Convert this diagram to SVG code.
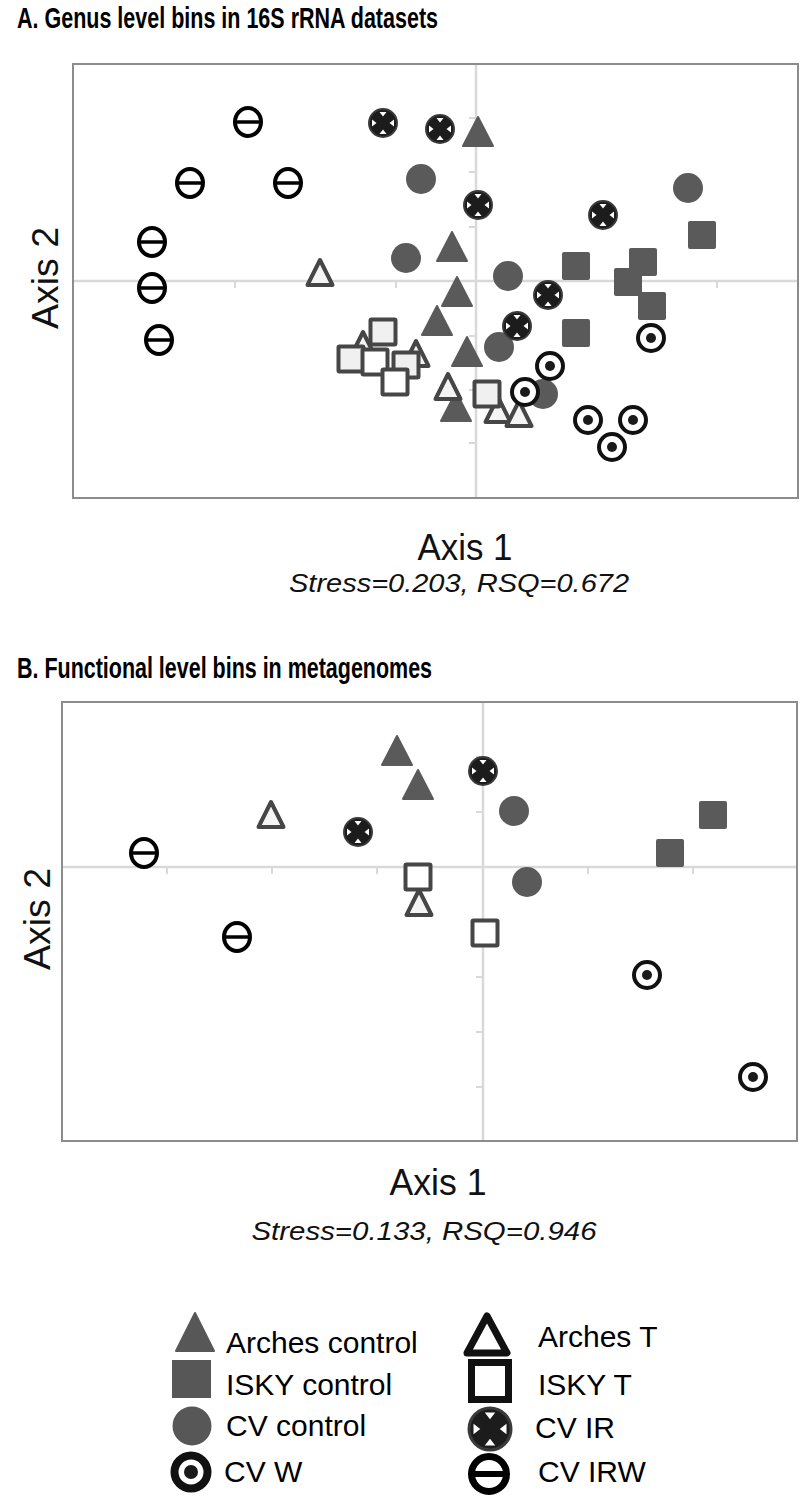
<svg xmlns="http://www.w3.org/2000/svg" xmlns:xlink="http://www.w3.org/1999/xlink" width="800" height="1498" viewBox="0 0 800 1498">
<style>
.frame{fill:none;stroke:#8c8c8c;stroke-width:2}
.grid{stroke:#d9d9d9;stroke-width:2.5}
.tick{stroke:#d9d9d9;stroke-width:2}
.title{font-family:"Liberation Sans",Arial,sans-serif;font-weight:bold;font-size:30px;fill:#000}
.axis{font-family:"Liberation Sans",Arial,sans-serif;font-size:36px;fill:#111}
.stat{font-family:"Liberation Sans",Arial,sans-serif;font-style:italic;font-size:26px;fill:#111}
.leg{font-family:"Liberation Sans",Arial,sans-serif;font-size:30px;fill:#000}
</style>
<defs>
<g id="ft"><polygon points="0,-15 15,14 -15,14" fill="#5a5a5a" stroke="#5a5a5a" stroke-width="2" stroke-linejoin="round"/></g>
<g id="fs"><rect x="-14" y="-14" width="28" height="28" rx="2" fill="#5a5a5a"/></g>
<g id="fc"><circle r="15" fill="#5a5a5a"/></g>
<g id="ot"><polygon points="0,-13 12.5,12 -12.5,12" fill="#f4f4f4" stroke="#464646" stroke-width="4" stroke-linejoin="round"/></g>
<g id="os"><rect x="-12.5" y="-12.5" width="25" height="25" rx="1" fill="#f0f0f0" stroke="#464646" stroke-width="4"/></g>
<g id="osw"><rect x="-12.5" y="-12.5" width="25" height="25" rx="1" fill="#ffffff" stroke="#464646" stroke-width="4"/></g>
<g id="ir"><circle r="14" fill="#1c1c1c" stroke="#3a3a3a" stroke-width="2"/><polygon points="-3.5,-11 3.5,-11 0,-6.5" fill="#fff"/><polygon points="-3.5,11 3.5,11 0,6.5" fill="#fff"/><polygon points="-11,-3.5 -11,3.5 -6.5,0" fill="#fff"/><polygon points="11,-3.5 11,3.5 6.5,0" fill="#fff"/></g>
<g id="w"><circle r="13" fill="#fff" stroke="#111" stroke-width="4"/><circle r="5" fill="#1a1a1a"/></g>
<g id="irw"><ellipse rx="13" ry="14" fill="#fff" stroke="#000" stroke-width="4"/><line x1="-13" y1="0" x2="13" y2="0" stroke="#000" stroke-width="3.5"/></g>
<g id="otL"><polygon points="0,-19 20,18 -20,18" fill="#fff" stroke="#111" stroke-width="7" stroke-linejoin="round"/></g>
<g id="osL"><rect x="-18.5" y="-18.5" width="37" height="37" fill="#fff" stroke="#111" stroke-width="7"/></g>
<g id="wL"><circle r="16.5" fill="#fff" stroke="#111" stroke-width="8"/><circle r="7" fill="#1a1a1a"/></g>
<g id="irwL"><circle r="17.5" fill="#fff" stroke="#000" stroke-width="7"/><line x1="-17.5" y1="0" x2="17.5" y2="0" stroke="#000" stroke-width="6"/></g>
</defs>
<rect width="800" height="1498" fill="#fff"/>

<!-- Panel A -->
<g id="panelA">
<text class="title" x="17" y="28" textLength="421" lengthAdjust="spacingAndGlyphs">A. Genus level bins in 16S rRNA datasets</text>
<g id="axesA">
<line class="grid" x1="476" y1="63" x2="476" y2="498"/>
<line class="grid" x1="73" y1="281" x2="798" y2="281"/>
<g class="tick">
<line x1="235" y1="281" x2="235" y2="288"/><line x1="396" y1="281" x2="396" y2="288"/><line x1="556" y1="281" x2="556" y2="288"/><line x1="717" y1="281" x2="717" y2="288"/>
<line x1="469" y1="118" x2="476" y2="118"/><line x1="469" y1="172" x2="476" y2="172"/><line x1="469" y1="227" x2="476" y2="227"/><line x1="469" y1="336" x2="476" y2="336"/><line x1="469" y1="390" x2="476" y2="390"/><line x1="469" y1="443" x2="476" y2="443"/>
</g>
<rect class="frame" x="73" y="64" width="725" height="434"/>
</g>
<g id="A-cvcontrol"><use xlink:href="#fc" x="421" y="179"/><use xlink:href="#fc" x="406" y="258"/><use xlink:href="#fc" x="508" y="276"/><use xlink:href="#fc" x="499" y="347"/><use xlink:href="#fc" x="543" y="394"/><use xlink:href="#fc" x="688" y="188"/></g>
<g id="A-iskycontrol"><use xlink:href="#fs" x="576" y="266"/><use xlink:href="#fs" x="643" y="262"/><use xlink:href="#fs" x="628" y="282"/><use xlink:href="#fs" x="652" y="306"/><use xlink:href="#fs" x="576" y="333"/><use xlink:href="#fs" x="702" y="235"/></g>
<g id="A-archescontrol"><use xlink:href="#ft" x="478" y="132"/><use xlink:href="#ft" x="452" y="247"/><use xlink:href="#ft" x="457" y="292"/><use xlink:href="#ft" x="437" y="321"/><use xlink:href="#ft" x="467" y="352"/><use xlink:href="#ft" x="456" y="407"/></g>
<g id="A-archesT"><use xlink:href="#ot" x="320" y="273"/><use xlink:href="#ot" x="363" y="345"/><use xlink:href="#ot" x="416" y="354"/><use xlink:href="#ot" x="448" y="387"/><use xlink:href="#ot" x="498" y="410"/><use xlink:href="#ot" x="519" y="414"/></g>
<g id="A-iskyT"><use xlink:href="#os" x="383" y="332"/><use xlink:href="#os" x="351" y="359"/><use xlink:href="#osw" x="375" y="362"/><use xlink:href="#os" x="406" y="365"/><use xlink:href="#osw" x="395" y="382"/><use xlink:href="#os" x="487" y="394"/></g>
<g id="A-cvIR"><use xlink:href="#ir" x="383" y="123"/><use xlink:href="#ir" x="440" y="129"/><use xlink:href="#ir" x="478" y="205"/><use xlink:href="#ir" x="603" y="215"/><use xlink:href="#ir" x="548" y="295"/><use xlink:href="#ir" x="517" y="326"/></g>
<g id="A-cvW"><use xlink:href="#w" x="651" y="338"/><use xlink:href="#w" x="550" y="366"/><use xlink:href="#w" x="525" y="392"/><use xlink:href="#w" x="588" y="420"/><use xlink:href="#w" x="633" y="420"/><use xlink:href="#w" x="612" y="447"/></g>
<g id="A-cvIRW"><use xlink:href="#irw" x="248" y="122"/><use xlink:href="#irw" x="190" y="183"/><use xlink:href="#irw" x="288" y="183"/><use xlink:href="#irw" x="152" y="242"/><use xlink:href="#irw" x="152" y="288"/><use xlink:href="#irw" x="159" y="340"/></g>
<text class="axis" x="465" y="560" text-anchor="middle" textLength="95" lengthAdjust="spacingAndGlyphs">Axis 1</text>
<text class="axis" transform="translate(58,278) rotate(-90)" text-anchor="middle" textLength="102" lengthAdjust="spacingAndGlyphs">Axis 2</text>
<text class="stat" x="459" y="592" text-anchor="middle" textLength="340" lengthAdjust="spacingAndGlyphs">Stress=0.203, RSQ=0.672</text>
</g>

<!-- Panel B -->
<g id="panelB">
<text class="title" x="17" y="678" textLength="415" lengthAdjust="spacingAndGlyphs">B. Functional level bins in metagenomes</text>
<g id="axesB">
<line class="grid" x1="483" y1="702" x2="483" y2="1141"/>
<line class="grid" x1="62" y1="867" x2="797" y2="867"/>
<g class="tick">
<line x1="167" y1="867" x2="167" y2="874"/><line x1="272" y1="867" x2="272" y2="874"/><line x1="377" y1="867" x2="377" y2="874"/><line x1="588" y1="867" x2="588" y2="874"/><line x1="693" y1="867" x2="693" y2="874"/>
<line x1="476" y1="757" x2="483" y2="757"/><line x1="476" y1="812" x2="483" y2="812"/><line x1="476" y1="922" x2="483" y2="922"/><line x1="476" y1="977" x2="483" y2="977"/><line x1="476" y1="1032" x2="483" y2="1032"/><line x1="476" y1="1087" x2="483" y2="1087"/>
</g>
<rect class="frame" x="62" y="702" width="735" height="439"/>
</g>
<g id="B-cvcontrol"><use xlink:href="#fc" x="514" y="811"/><use xlink:href="#fc" x="527" y="882"/></g>
<g id="B-iskycontrol"><use xlink:href="#fs" x="670" y="853"/><use xlink:href="#fs" x="713" y="815"/></g>
<g id="B-archescontrol"><use xlink:href="#ft" x="397" y="751"/><use xlink:href="#ft" x="418" y="785"/></g>
<g id="B-archesT"><use xlink:href="#ot" x="271" y="815"/><use xlink:href="#ot" x="419" y="903"/></g>
<g id="B-iskyT"><use xlink:href="#osw" x="418" y="877"/><use xlink:href="#osw" x="485" y="933"/></g>
<g id="B-cvIR"><use xlink:href="#ir" x="358" y="832"/><use xlink:href="#ir" x="483" y="771"/></g>
<g id="B-cvW"><use xlink:href="#w" x="647" y="975"/><use xlink:href="#w" x="753" y="1077"/></g>
<g id="B-cvIRW"><use xlink:href="#irw" x="144" y="853"/><use xlink:href="#irw" x="237" y="937"/></g>
<text class="axis" x="438" y="1195" text-anchor="middle" textLength="97" lengthAdjust="spacingAndGlyphs">Axis 1</text>
<text class="axis" transform="translate(50,919) rotate(-90)" text-anchor="middle" textLength="102" lengthAdjust="spacingAndGlyphs">Axis 2</text>
<text class="stat" x="424" y="1240" text-anchor="middle" textLength="345" lengthAdjust="spacingAndGlyphs">Stress=0.133, RSQ=0.946</text>
</g>

<!-- Legend -->
<g id="legend">
<g id="leg-archescontrol"><polygon points="195,1313 214,1351 176,1351" fill="#575757" stroke="#575757" stroke-width="2" stroke-linejoin="round"/><text class="leg" x="226" y="1353">Arches control</text></g>
<g id="leg-iskycontrol"><rect x="172" y="1360" width="39" height="38" fill="#575757"/><text class="leg" x="226" y="1395">ISKY control</text></g>
<g id="leg-cvcontrol"><circle cx="192" cy="1426" r="19.5" fill="#575757"/><text class="leg" x="226" y="1436">CV control</text></g>
<g id="leg-cvW"><use xlink:href="#wL" x="191" y="1472"/><text class="leg" x="224" y="1482">CV W</text></g>
<g id="leg-archesT"><use xlink:href="#otL" x="487" y="1335"/><text class="leg" x="538" y="1347">Arches T</text></g>
<g id="leg-iskyT"><use xlink:href="#osL" x="490" y="1381"/><text class="leg" x="538" y="1395">ISKY T</text></g>
<g id="leg-cvIR"><use xlink:href="#ir" transform="translate(490,1429) scale(1.5)"/><text class="leg" x="535" y="1438">CV IR</text></g>
<g id="leg-cvIRW"><use xlink:href="#irwL" x="489" y="1474"/><text class="leg" x="538" y="1482">CV IRW</text></g>
</g>
</svg>
